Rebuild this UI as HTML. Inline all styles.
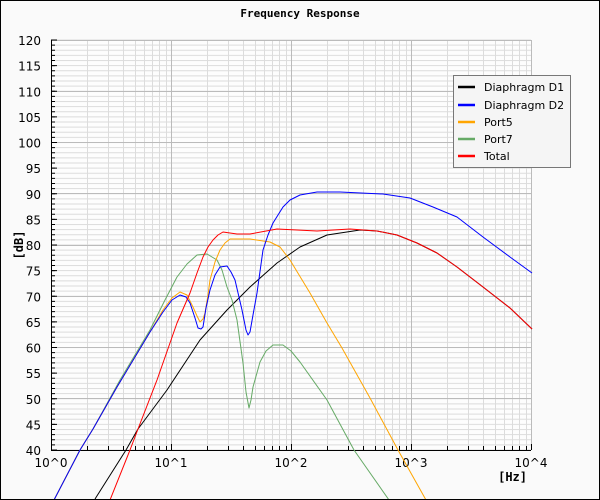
<!DOCTYPE html>
<html><head><style>body{margin:0}svg{display:block}</style></head><body>
<svg width="600" height="500" xmlns="http://www.w3.org/2000/svg" font-family="DejaVu Sans, Liberation Sans, sans-serif">
<defs>
<pattern id="hg" patternUnits="userSpaceOnUse" x="0" y="39.5" width="600" height="5.125">
<rect x="0" y="0" width="600" height="1" fill="#dcdcdc"/>
</pattern>
</defs>
<rect x="0.5" y="0.5" width="599" height="499" fill="#fafafa" stroke="#000"/>
<text x="300" y="17" text-anchor="middle" font-family="DejaVu Sans Mono, Liberation Mono, monospace" font-weight="bold" font-size="11">Frequency Response</text>
<rect x="51" y="40" width="480" height="410" fill="#fdfdfd"/>
<rect x="51" y="39.5" width="480" height="411" fill="url(#hg)"/>
<path stroke="#dcdcdc" fill="none" d="M87.5,40V450M108.5,40V450M123.5,40V450M135.5,40V450M144.5,40V450M152.5,40V450M159.5,40V450M166.5,40V450
M207.5,40V450M228.5,40V450M243.5,40V450M255.5,40V450M264.5,40V450M272.5,40V450M279.5,40V450M286.5,40V450
M327.5,40V450M348.5,40V450M363.5,40V450M375.5,40V450M384.5,40V450M392.5,40V450M399.5,40V450M406.5,40V450
M447.5,40V450M468.5,40V450M483.5,40V450M495.5,40V450M504.5,40V450M512.5,40V450M519.5,40V450M526.5,40V450"/>
<path stroke="#bbb" fill="none" d="M171.5,40V450M291.5,40V450M411.5,40V450M531.5,40V450
M51,40.5H531M51,91.5H531M51,142.5H531M51,193.5H531M51,245.5H531M51,296.5H531M51,347.5H531M51,398.5H531"/>
<line x1="53" y1="39.5" x2="53" y2="451" stroke="#000" stroke-width="4" stroke-dasharray="1 4.125"/>
<line x1="54" y1="39.5" x2="54" y2="451" stroke="#000" stroke-width="6" stroke-dasharray="1 24.625"/>
<path stroke="#000" fill="none" d="M51.5,40V450M51,450.5H531
M87.5,450V446M108.5,450V446M123.5,450V446M135.5,450V446M144.5,450V446M152.5,450V446M159.5,450V446M166.5,450V446
M207.5,450V446M228.5,450V446M243.5,450V446M255.5,450V446M264.5,450V446M272.5,450V446M279.5,450V446M286.5,450V446
M327.5,450V446M348.5,450V446M363.5,450V446M375.5,450V446M384.5,450V446M392.5,450V446M399.5,450V446M406.5,450V446
M447.5,450V446M468.5,450V446M483.5,450V446M495.5,450V446M504.5,450V446M512.5,450V446M519.5,450V446M526.5,450V446
M171.5,450V444M291.5,450V444M411.5,450V444M531.5,450V444"/>
<g font-size="12" fill="#000" text-anchor="end">
<text x="41" y="45">120</text><text x="41" y="70.6">115</text><text x="41" y="96.3">110</text><text x="41" y="121.9">105</text>
<text x="41" y="147.5">100</text><text x="41" y="173.1">95</text><text x="41" y="198.8">90</text><text x="41" y="224.4">85</text>
<text x="41" y="250">80</text><text x="41" y="275.6">75</text><text x="41" y="301.3">70</text><text x="41" y="326.9">65</text>
<text x="41" y="352.5">60</text><text x="41" y="378.1">55</text><text x="41" y="403.8">50</text><text x="41" y="429.4">45</text>
<text x="41" y="455">40</text>
</g>
<g font-size="12" fill="#000" text-anchor="middle">
<text x="51" y="467">10^0</text><text x="171" y="467">10^1</text><text x="291" y="467">10^2</text><text x="411" y="467">10^3</text><text x="531" y="467">10^4</text>
</g>
<text x="527" y="481" text-anchor="end" font-family="DejaVu Sans Mono, Liberation Mono, monospace" font-weight="bold" font-size="12">[Hz]</text>
<text transform="translate(23,245) rotate(-90)" text-anchor="middle" font-family="DejaVu Sans Mono, Liberation Mono, monospace" font-weight="bold" font-size="12">[dB]</text>
<svg x="0" y="0" width="599" height="499" overflow="hidden">
<g fill="none" stroke-width="1" stroke-linejoin="round">
<polyline stroke="#000" points="95,499 126,450 138,429 167,390 200,340 227,310 250,287 277,263 300,247 327,235 360,230 377,231 397,235 417,243 437,253 457,267 483,287 510,308 532,329"/>
<polyline stroke="#66aa66" points="54,500 80,450 93,429 120,380 150,330 165,300 177,277 187,264 197,255 207,254 217,260 222,270 227,287 232,300 237,320 243,363 246,392 249,408 251,400 253,387 260,362 266,351 273,345 283,345 291,351 300,362 327,400 354,450 389,500"/>
<polyline stroke="#ffa500" points="54,500 80,450 93,429 117,387 150,332 163,310 172,298 180,292 187,295 193,307 197,316 200,322 203,319 205,313 208,295 210,280 215,262 220,250 225,243 230,239 250,239 270,242 280,247 290,260 310,293 327,323 342,348 370,398 398,450 426,500"/>
<polyline stroke="#0000ff" points="54,500 80,450 93,429 117,387 150,332 163,312 172,300 180,295 186,297 190,303 195,318 198,328 201,329 203,327 206,308 210,290 215,275 220,267 227,266 231,272 235,280 242,310 246,330 248,335 250,332 253,315 257,293 263,250 268,235 273,223 283,207 290,200 300,195 317,192 340,192 383,194 410,198 433,207 457,217 483,237 510,257 532,273"/>
<polyline stroke="#ff0000" points="110,500 130,450 138,429 157,380 177,323 190,293 197,273 203,257 208,247 213,240 218,235 223,232 237,234 250,234 277,229 317,231 350,229 377,231 397,235 417,243 437,253 457,267 483,287 510,308 532,329"/>
</g></svg>
<rect x="453.5" y="75.5" width="117" height="92" fill="#f5f5f5" stroke="#777"/>
<g stroke-width="2.5">
<line x1="458" y1="87" x2="475" y2="87" stroke="#000"/>
<line x1="458" y1="105" x2="475" y2="105" stroke="#00f"/>
<line x1="458" y1="122" x2="475" y2="122" stroke="#ffa500"/>
<line x1="458" y1="139" x2="475" y2="139" stroke="#66aa66"/>
<line x1="458" y1="156" x2="475" y2="156" stroke="#f00"/>
</g>
<g font-size="11" fill="#000">
<text x="484" y="91">Diaphragm D1</text>
<text x="484" y="109">Diaphragm D2</text>
<text x="484" y="126">Port5</text>
<text x="484" y="143">Port7</text>
<text x="484" y="160">Total</text>
</g>
</svg>
</body></html>
